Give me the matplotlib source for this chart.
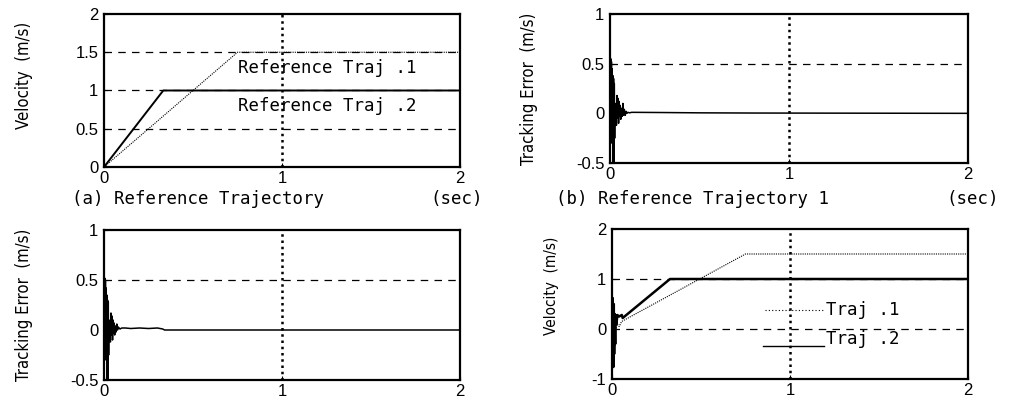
#!/usr/bin/env python3
"""Reference velocity trajectories and tracking errors (2x2 MATLAB-style panels)."""
import matplotlib

matplotlib.use("Agg")
import matplotlib.pyplot as plt

plt.rcParams["font.family"] = ["Liberation Sans", "DejaVu Sans"]

# (a) reference trajectories
t_ref1 = [0.0, 0.75, 2.0]
v_ref1 = [0.0, 1.5, 1.5]
t_ref2 = [0.0, 0.333, 2.0]
v_ref2 = [0.0, 1.0, 1.0]

# (b) tracking error, reference trajectory 1
t_err1 = [0, 0.004, 0.006, 0.008, 0.010, 0.012, 0.014, 0.016, 0.018, 0.020,
          0.022, 0.024, 0.026, 0.028, 0.030, 0.033, 0.036, 0.039, 0.042, 0.045,
          0.048, 0.051, 0.054, 0.057, 0.060, 0.064, 0.068, 0.072, 0.076, 0.080,
          0.085, 0.090, 0.095, 0.100, 0.110, 0.120, 0.140, 0.300, 0.500, 0.800, 2.0]
e_err1 = [0, 0.55, -0.3, 0.52, 0.05, 0.45, -0.1, 0.38, -0.55, 0.35,
          -0.55, 0.30, -0.25, 0.1, 0.0, 0.05, -0.12, 0.18, -0.05, 0.15,
          -0.1, 0.12, -0.03, 0.08, -0.06, 0.05, -0.03, 0.1, -0.02, 0.04,
          -0.02, 0.02, 0.0, 0.01, 0.005, 0.01, 0.01, 0.008, 0.005, 0.003, 0.0]

# (c) tracking error, reference trajectory 2
t_err2 = [0, 0.004, 0.006, 0.008, 0.010, 0.012, 0.014, 0.016, 0.018, 0.020,
          0.022, 0.024, 0.026, 0.028, 0.030, 0.033, 0.036, 0.039, 0.042, 0.045,
          0.048, 0.051, 0.054, 0.057, 0.060, 0.064, 0.068, 0.072, 0.076, 0.080,
          0.090, 0.100, 0.120, 0.150, 0.200, 0.250, 0.300, 0.330, 0.340, 2.0]
e_err2 = [0, 0.52, -0.3, 0.5, 0.05, 0.42, -0.1, 0.35, -0.55, 0.3,
          -0.55, 0.28, -0.25, 0.1, 0.0, 0.05, -0.12, 0.17, -0.05, 0.14,
          -0.1, 0.1, -0.03, 0.07, -0.05, 0.04, -0.02, 0.06, 0.0, 0.03,
          0.01, 0.02, 0.02, 0.015, 0.02, 0.015, 0.02, 0.01, 0.0, 0.0]

# (d) actual velocities
t_vel1 = [0, 0.005, 0.010, 0.015, 0.020, 0.030, 0.040, 0.054, 0.75, 2.0]
v_vel1 = [0, 0.3, -0.2, 0.2, 0.0, 0.1, 0.05, 0.15, 1.5, 1.5]
t_vel2 = [0, 0.004, 0.008, 0.010, 0.012, 0.015, 0.018, 0.020, 0.025, 0.030,
          0.040, 0.055, 0.060, 0.326, 2.0]
v_vel2 = [0, 0.62, -0.76, 0.5, -0.5, 0.3, -0.3, 0.28, 0.1, 0.28,
          0.25, 0.28, 0.22, 1.0, 1.0]

TXT = dict(family=["DejaVu Sans Mono"], fontsize=12.5)
YLAB = dict(family=["DejaVu Sans"], fontstretch="condensed", fontsize=12)
FIG_W, FIG_H = 1012, 404


def make_ax(fig, left, top, right, bottom):
    return fig.add_axes([left / FIG_W, 1 - bottom / FIG_H,
                         (right - left) / FIG_W, (bottom - top) / FIG_H])


def style(ax, ylim, yticks, yticklabels, ylabel, ylab_xy, hgrid, ylab_size=12):
    ax.set_xlim(0, 2)
    ax.set_ylim(*ylim)
    ax.set_xticks([0, 1, 2])
    ax.set_xticklabels(["0", "1", "2"])
    ax.set_yticks(yticks)
    ax.set_yticklabels(yticklabels)
    ax.tick_params(direction="in", length=3, labelsize=12, pad=4)
    ax.tick_params(axis="x", pad=3)
    for s in ax.spines.values():
        s.set_linewidth(1.6)
    for y in hgrid:
        ax.axhline(y, color="black", lw=0.9, ls=(0, (6, 5)), zorder=0)
    ax.axvline(1, color="black", lw=1.8, ls=(0, (1, 1.5)), zorder=0)
    ax.set_ylabel(ylabel, **{**YLAB, "fontsize": ylab_size})
    ax.yaxis.set_label_coords(*ylab_xy)


fig = plt.figure(figsize=(FIG_W / 100, FIG_H / 100), dpi=100)

# (a)
ax = make_ax(fig, 104, 14, 460, 167)
ax.plot(t_ref1, v_ref1, color="black", lw=0.8, ls=(0, (1, 1)))
ax.plot(t_ref2, v_ref2, color="black", lw=1.4)
style(ax, (0, 2), [0, 0.5, 1, 1.5, 2], ["0", "0.5", "1", "1.5", "2"],
      "Velocity  (m/s)", (-0.2, 0.6), [0.5, 1, 1.5])
ax.text(0.75, 1.3, "Reference Traj .1", va="center", **TXT)
ax.text(0.75, 0.8, "Reference Traj .2", va="center", **TXT)
fig.text(72 / FIG_W, 1 - 199 / FIG_H, "(a) Reference Trajectory", va="center", **TXT)
fig.text(483 / FIG_W, 1 - 199 / FIG_H, "(sec)", va="center", ha="right", **TXT)

# (b)
ax = make_ax(fig, 610, 14, 968, 163)
ax.plot(t_err1, e_err1, color="black", lw=1.1)
style(ax, (-0.5, 1), [-0.5, 0, 0.5, 1], ["-0.5", "0", "0.5", "1"],
      "Tracking Error  (m/s)", (-0.2, 0.5), [0.5])
fig.text(556 / FIG_W, 1 - 199 / FIG_H, "(b) Reference Trajectory 1", va="center", **TXT)
fig.text(999 / FIG_W, 1 - 199 / FIG_H, "(sec)", va="center", ha="right", **TXT)

# (c)
ax = make_ax(fig, 104, 230, 460, 380)
ax.plot(t_err2, e_err2, color="black", lw=1.1)
style(ax, (-0.5, 1), [-0.5, 0, 0.5, 1], ["-0.5", "0", "0.5", "1"],
      "Tracking Error  (m/s)", (-0.2, 0.5), [0.5])

# (d)
ax = make_ax(fig, 612, 229, 968, 379)
ax.plot(t_vel1, v_vel1, color="black", lw=0.8, ls=(0, (1, 1)))
ax.plot(t_vel2, v_vel2, color="black", lw=1.8)
style(ax, (-1, 2), [-1, 0, 1, 2], ["-1", "0", "1", "2"],
      "Velocity  (m/s)", (-0.15, 0.62), [0, 1], ylab_size=11)
ax.plot([0.86, 1.19], [0.38, 0.38], color="black", lw=0.8, ls=(0, (1, 2)))
ax.text(1.2, 0.38, "Traj .1", va="center", **TXT)
ax.plot([0.85, 1.19], [-0.34, -0.34], color="black", lw=1.0)
ax.text(1.2, -0.2, "Traj .2", va="center", **TXT)

fig.savefig("out.png", dpi=100)
